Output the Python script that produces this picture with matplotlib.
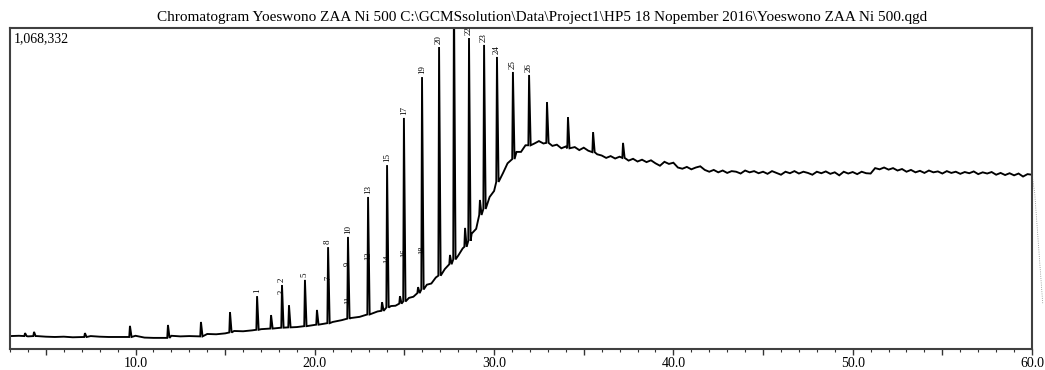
import matplotlib
matplotlib.use("Agg")
import matplotlib.pyplot as plt
from matplotlib.ticker import MultipleLocator, FuncFormatter

# ---------------- data (retention time in min, intensity in thousands of counts) -------------
title_text = ("Chromatogram Yoeswono ZAA Ni 500 C:\\GCMSsolution\\Data\\Project1\\HP5 "
              "18 Nopember 2016\\Yoeswono ZAA Ni 500.qgd")
full_scale = 1068332

base_t = [3.0, 3.5, 4.0, 4.5, 5.0, 5.5, 6.0, 6.5, 7.0, 7.5, 8.0, 8.5, 9.0, 9.5, 10.0, 10.5,
          11.0, 11.5, 12.0, 12.5, 13.0, 13.5, 14.0, 14.5, 15.0, 15.5, 16.0, 16.5, 17.0, 17.5,
          18.0, 18.5, 19.0, 19.5, 20.0, 20.5, 21.0, 21.5, 22.0, 22.5, 23.0, 23.5,
          24.0, 24.25, 24.5, 24.75, 25.0, 25.25, 25.5, 25.75, 26.0, 26.25, 26.5, 26.75,
          27.0, 27.25, 27.5, 27.75, 28.0, 28.25, 28.5, 28.75, 29.0, 29.25, 29.5, 29.75,
          30.0, 30.25, 30.5, 30.75, 31.0, 31.25, 31.5, 31.75, 32.0, 32.25,
          32.5, 32.75, 33.0, 33.25, 33.5, 33.75, 34.0, 34.25, 34.5, 34.75, 35.0, 35.25,
          35.5, 35.75, 36.0, 36.25, 36.5, 36.75, 37.0, 37.25, 37.5, 37.75, 38.0, 38.25,
          38.5, 38.75, 39.0, 39.25, 39.5, 39.75, 40.0, 40.25, 40.5, 40.75, 41.0, 41.25,
          41.5, 41.75, 42.0, 42.25, 42.5, 42.75, 43.0, 43.25, 43.5, 43.75, 44.0, 44.25,
          44.5, 44.75, 45.0, 45.25, 45.5, 45.75, 46.0, 46.25, 46.5, 46.75, 47.0, 47.25,
          47.5, 47.75, 48.0, 48.25, 48.5, 48.75, 49.0, 49.25, 49.5, 49.75, 50.0, 50.25,
          50.5, 50.75, 51.0, 51.25, 51.5, 51.75, 52.0, 52.25, 52.5, 52.75, 53.0, 53.25,
          53.5, 53.75, 54.0, 54.25, 54.5, 54.75, 55.0, 55.25, 55.5, 55.75, 56.0, 56.25,
          56.5, 56.75, 57.0, 57.25, 57.5, 57.75, 58.0, 58.25, 58.5, 58.75, 59.0, 59.25,
          59.5, 59.75, 60.0]
base_k = [43, 44, 42, 43, 41, 40, 41, 39, 40, 43, 41, 40, 40, 40, 44, 38,
          37, 37, 44, 42, 43, 42, 50, 49, 52, 60, 59, 62, 66, 68,
          70, 72, 73, 76, 80, 84, 90, 96, 103, 107, 115, 125,
          137, 143, 144, 154, 156, 170, 174, 190, 195, 214, 218, 238,
          245, 266, 277, 300, 311, 335, 348, 384, 400, 446, 466, 506,
          526, 568, 586, 618, 628, 656, 656, 678, 674, 684,
          692, 684, 688, 676, 680, 668, 674, 665, 672, 662, 670, 660,
          655, 648, 644, 636, 642, 634, 640, 630, 627, 633, 624, 630,
          622, 628, 618, 610, 623, 616, 620, 604, 600, 606, 598, 604,
          608, 596, 590, 596, 588, 594, 586, 592, 590, 584, 594, 588,
          592, 585, 590, 583, 592, 586, 580, 590, 585, 592, 584, 590,
          586, 580, 590, 585, 591, 583, 588, 578, 590, 584, 589, 582,
          590, 585, 584, 602, 598, 604, 597, 602, 594, 599, 590, 596,
          588, 593, 586, 594, 588, 591, 584, 592, 586, 590, 583, 589,
          585, 591, 582, 588, 584, 589, 580, 586, 579, 585, 578, 584,
          574, 582, 580]

peak_t = [3.84, 4.34, 7.18, 9.69, 11.81, 13.65, 15.27, 16.78, 17.56, 18.17, 18.56, 19.45,
          20.12, 20.74, 21.85, 22.97, 23.75, 24.03, 24.75, 24.97, 25.76, 25.98, 26.93,
          27.54, 27.76, 28.38, 28.60, 29.21, 29.44, 30.16, 31.05, 31.95, 32.95, 34.12,
          35.52, 37.19]
peak_top = [53, 57, 53, 77, 80, 90, 123, 176, 113, 213, 146, 230,
            130, 339, 373, 506, 156, 612, 176, 769, 206, 905, 1005,
            313, 1200, 403, 1035, 496, 1012, 972, 922, 912, 822, 772,
            722, 686]
peak_foot = [43, 43, 40, 40, 37, 42, 55, 64, 68, 71, 72, 76,
             81, 86, 101, 115, 127, 138, 151, 158, 186, 198, 244,
             282, 298, 340, 360, 446, 466, 556, 632, 678, 686, 668,
             655, 636]
peak_label = ["", "", "", "", "", "", "", "1", "", "2", "", "5",
              "", "8", "10", "13", "", "15", "", "17", "", "19", "20",
              "", "", "", "22", "", "23", "24", "25", "26", "", "",
              "", ""]

sub_t = [18.17, 20.74, 21.85, 21.85, 22.97, 24.03, 24.97, 25.98]
sub_k = [190, 236, 283, 163, 310, 300, 319, 329]
sub_label = ["3", "7", "9", "11", "12", "14", "16", "18"]

tail_t = [60.0, 60.15, 60.6]
tail_k = [580, 520, 150]

# ---------------- build trace ----------------
pts = []
for t, k in zip(base_t, base_k):
    if all(not (pt - 0.1 < t < pt + 0.15) for pt in peak_t):
        pts.append((t, k))
for t, top, foot in zip(peak_t, peak_top, peak_foot):
    pts += [(t - 0.04, foot), (t, top), (t + 0.09, foot)]
pts.sort()
tr_t = [p[0] for p in pts]
tr_y = [p[1] * 1000 for p in pts]

plt.rcParams['font.family'] = ['Liberation Serif', 'DejaVu Serif']

W, H = 1045, 370
fig = plt.figure(figsize=(W / 100, H / 100), dpi=100)
ax = fig.add_axes([10 / W, 21 / H, 1022 / W, 321 / H])

ax.plot(tr_t, tr_y, color='black', lw=1.35, solid_joinstyle='miter')
ax.plot(tail_t, [k * 1000 for k in tail_k], color='#888888', lw=0.6, ls=':', clip_on=False)

ax.set_xlim(3.0, 60.0)
ax.set_ylim(0, full_scale)

for t, top, lab in zip(peak_t, peak_top, peak_label):
    if lab:
        ax.annotate(lab, (t, top * 1000), xytext=(0, 2), textcoords='offset points',
                    rotation=90, ha='center', va='bottom', fontsize=6.5, clip_on=False)
for t, k, lab in zip(sub_t, sub_k, sub_label):
    ax.text(t, k * 1000, lab, rotation=90, ha='center', va='center', fontsize=6.0)

ax.text(0.004, 0.966, f"{full_scale:,}", transform=ax.transAxes, ha='left', va='center',
        fontsize=10)
fig.text(542 / W, 1 - 17 / H, title_text, ha='center', va='center', fontsize=11)

ax.set_yticks([])
ax.xaxis.set_major_locator(MultipleLocator(5))
ax.xaxis.set_minor_locator(MultipleLocator(1))
ax.xaxis.set_major_formatter(FuncFormatter(lambda v, p: f"{v:.1f}" if abs(v % 10) < 1e-6 else ""))
ax.tick_params(axis='x', which='major', length=4, width=1.0, color='#333333',
               labelsize=10, pad=2)
ax.tick_params(axis='x', which='minor', length=2, width=0.8, color='#333333')
for s in ax.spines.values():
    s.set_color('#404040')
    s.set_linewidth(1.5)

fig.savefig("out.png", dpi=100)
